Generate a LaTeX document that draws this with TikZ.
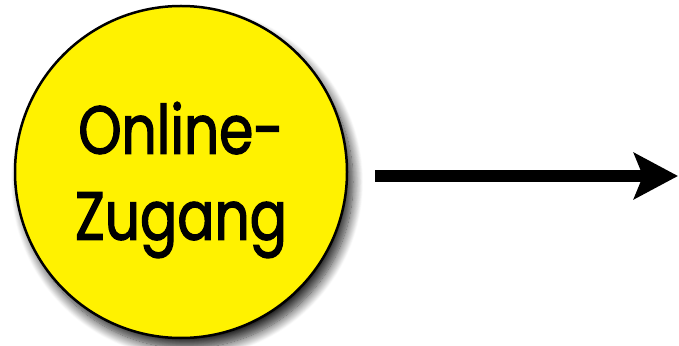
\documentclass[tikz,border=0pt]{standalone}
\usepackage{fontspec}
\setsansfont{Poppins}[FakeStretch=0.81, FakeBold=1.8]
\usetikzlibrary{arrows.meta, positioning, shadows.blur}

\begin{document}
\begin{tikzpicture}[
    x=1pt, y=1pt,
    font=\sffamily,
    kreis/.style={circle, draw, line width=2.5pt, fill=yellow, minimum size=332pt, inner sep=0pt,
        blur shadow={shadow xshift=6pt, shadow yshift=-10pt, shadow blur radius=10pt, shadow blur steps=14, shadow opacity=85}},
    beschriftung/.style={align=center, inner sep=0pt, font=\sffamily\fontsize{68}{86}\selectfont},
    arrow/.style={-{Stealth[length=44pt, width=46pt, inset=9pt]}, line width=12pt}
]
    \useasboundingbox (0,0) rectangle (679,345);

    % Nodes
    \node[kreis] (zugang) at (181,173) {};
    \node[beschriftung] (text) at ([yshift=-8pt]zugang.center) {Online-\\Zugang};
    \coordinate (ziel) at (678,169);

    % Pfeil nach rechts
    \draw[arrow] ([xshift=27pt, yshift=-4pt]zugang.east) -- (ziel);

\end{tikzpicture}
\end{document}
